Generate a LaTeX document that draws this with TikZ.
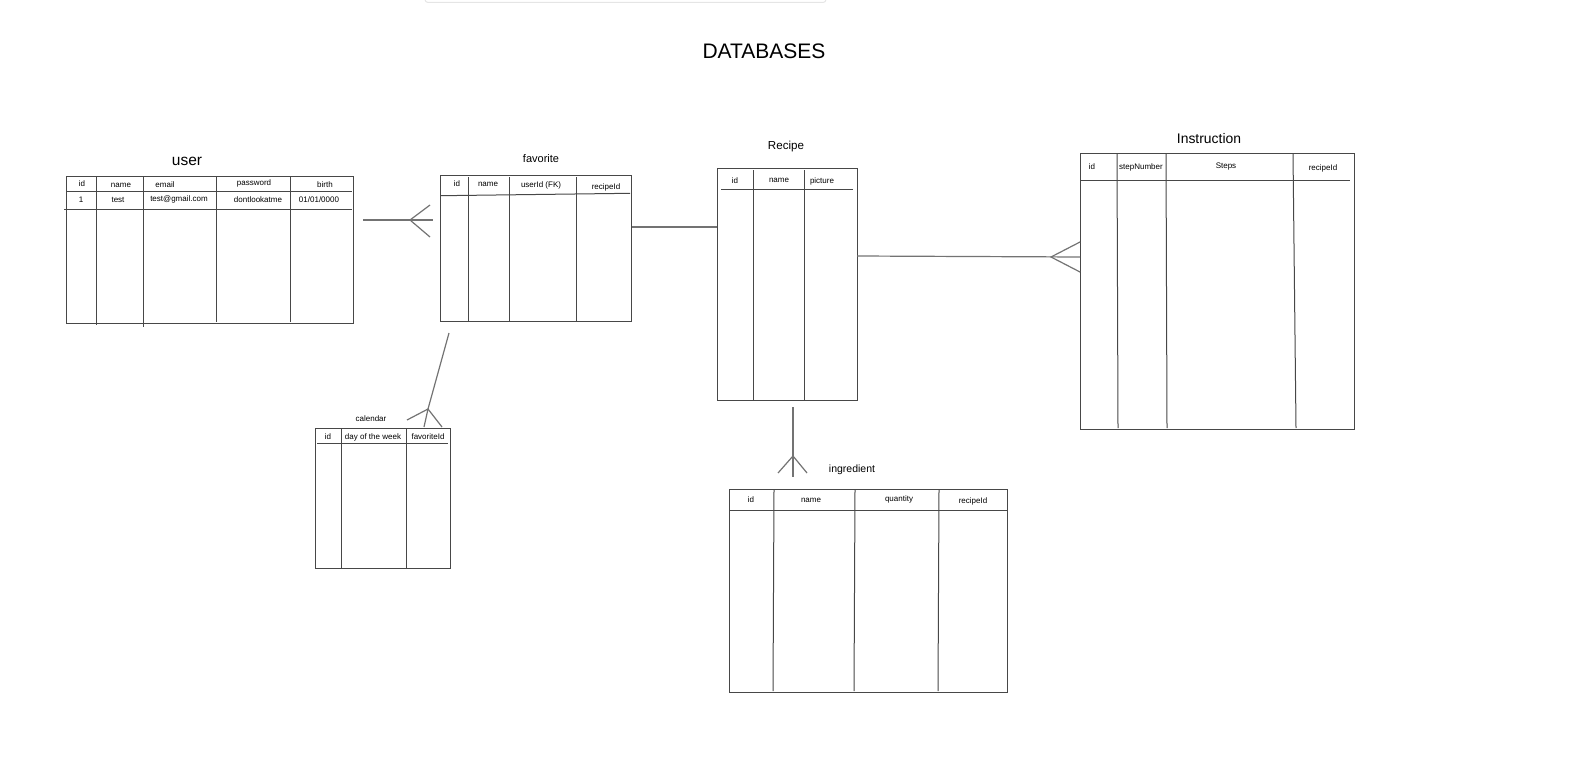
\documentclass[tikz,border=0pt]{standalone}
\usepackage{fontspec}
\setmainfont{Liberation Sans}
\begin{document}
\begin{tikzpicture}[x=1pt,y=-1pt,
    tbl/.style={draw=black!72,line width=1pt,inner sep=0pt,outer sep=0pt},
    grid/.style={draw=black!72,line width=1pt},
    link/.style={draw=black!55,line width=1.2pt},
    cell/.style={font=\fontsize{8}{9}\selectfont,anchor=center,inner sep=0pt}]
    \useasboundingbox (0,0) rectangle (1576,773);
    %% top bar of the page
    \draw[black!10,line width=1pt,rounded corners=3pt] (425,-6) -- (425,2.5) -- (826,2.5) -- (826,-6);
    \node[font=\fontsize{21}{24}\selectfont] (title) at (764,51) {DATABASES};
    %% user
    \node[tbl,minimum width=287pt,minimum height=147pt] (user) at (210.2,249.5) {};
    \node[font=\fontsize{15.5}{18}\selectfont] (usertitle) at (187,161) {user};
    \draw[grid] (66.7,191) -- (352,191);
    \draw[grid] (64,209) -- (352,209);
    \foreach \x/\y in {96/325,143/327,216/322,290/322}
        \draw[grid] (\x,176) -- (\x,\y);
    \node[cell] at (82,184) {id};
    \node[cell] at (121,185.5) {name};
    \node[cell] at (165,184.5) {email};
    \node[cell] at (254,183) {password};
    \node[cell] at (325,185) {birth};
    \node[cell] at (81,200) {1};
    \node[cell] at (118,200) {test};
    \node[cell] at (179,199) {test@gmail.com};
    \node[cell] at (258,200) {dontlookatme};
    \node[cell] at (319,200) {01/01/0000};
    %% favorite
    \node[tbl,minimum width=191pt,minimum height=146pt] (favorite) at (536.2,248.7) {};
    \node[font=\fontsize{11}{13}\selectfont] (favtitle) at (541,159) {favorite};
    \draw[grid] (441,195.7) -- (630,193.3);
    \foreach \x in {468,509,576}
        \draw[grid] (\x,177) -- (\x,322);
    \node[cell] at (457,183.5) {id};
    \node[cell] at (488,184) {name};
    \node[cell] at (541,185) {userId (FK)};
    \node[cell] at (606,187) {recipeId};
    %% Recipe
    \node[tbl,minimum width=140pt,minimum height=232pt] (recipe) at (787,284) {};
    \node[font=\fontsize{11.6}{14}\selectfont] (rectitle) at (786,147) {Recipe};
    \draw[grid] (721,189) -- (853,189);
    \foreach \x in {753,804}
        \draw[grid] (\x,170) -- (\x,400);
    \node[cell] at (735,181) {id};
    \node[cell] at (779,180.5) {name};
    \node[cell] at (822,181) {picture};
    %% Instruction
    \node[tbl,minimum width=274pt,minimum height=276pt] (instruction) at (1217,291) {};
    \node[font=\fontsize{13.9}{16}\selectfont] (institle) at (1209,139) {Instruction};
    \draw[grid] (1080,180) -- (1350,180);
    \foreach \x/\z in {1117/1118,1166/1167,1293/1296}
        \draw[grid] (\x,154) -- (\z,428);
    \node[cell] at (1092,167) {id};
    \node[cell] at (1141,167) {stepNumber};
    \node[cell] at (1226,166.5) {Steps};
    \node[cell] at (1323,168.5) {recipeId};
    %% calendar
    \node[tbl,minimum width=135pt,minimum height=140pt] (calendar) at (382.5,498) {};
    \node[font=\fontsize{8}{10}\selectfont] (caltitle) at (371,418.5) {calendar};
    \draw[grid] (317,443) -- (448,443);
    \foreach \x in {341,406}
        \draw[grid] (\x,429) -- (\x,568);
    \node[cell] at (328,437) {id};
    \node[cell] at (373,437) {day of the week};
    \node[cell] at (428,437) {favoriteId};
    %% ingredient
    \node[tbl,minimum width=278pt,minimum height=203pt] (ingredient) at (868,590.5) {};
    \node[font=\fontsize{10.5}{13}\selectfont] (ingtitle) at (852,470) {ingredient};
    \draw[grid] (729,510) -- (1007,510);
    \foreach \x/\z in {774/773,855/854,939/938}
        \draw[grid] (\x,490) -- (\z,691);
    \node[cell] at (751,500) {id};
    \node[cell] at (811,500.5) {name};
    \node[cell] at (899,499) {quantity};
    \node[cell] at (973,501.5) {recipeId};
    %% links
    \coordinate (uf0) at (363,220);
    \coordinate (uf1) at (410,220);
    \coordinate (uf2) at (433,220);
    \draw[link] (uf0) -- (uf2);
    \draw[link] (430,205) -- (uf1) -- (430,237);
    \draw[link] (favorite.east |- 0,227) -- (recipe.west |- 0,227);
    \coordinate (ri0) at (857,256);
    \coordinate (ri1) at (1051,257);
    \draw[link] (ri0) -- (instruction.west |- 0,257);
    \draw[link] (1080,242) -- (ri1) -- (1080,272);
    \coordinate (fc0) at (449,333);
    \coordinate (fc1) at (428,409);
    \draw[link] (fc0) -- (fc1);
    \draw[link] (407,420) -- (fc1) -- (424,427);
    \draw[link] (fc1) -- (442,427);
    \coordinate (rg0) at (793,407);
    \coordinate (rg1) at (793,456);
    \draw[link] (rg0) -- (rg1) -- (793,477);
    \draw[link] (778,473) -- (rg1) -- (807,473);
\end{tikzpicture}
\end{document}
